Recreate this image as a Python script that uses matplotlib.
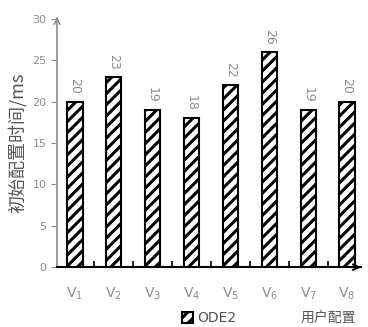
import matplotlib.pyplot as plt
import numpy as np

plt.rcParams['font.family'] = ['DejaVu Sans', 'Noto Sans CJK SC']

categories = ['$\\mathregular{V_1}$', '$\\mathregular{V_2}$', '$\\mathregular{V_3}$', '$\\mathregular{V_4}$',
              '$\\mathregular{V_5}$', '$\\mathregular{V_6}$', '$\\mathregular{V_7}$', '$\\mathregular{V_8}$']
ode2 = [20, 23, 19, 18, 22, 26, 19, 20]
yticks = [0, 5, 10, 15, 20, 25, 30]

gray = '#8c8c8c'
plt.rcParams['hatch.linewidth'] = 2.2

fig = plt.figure(figsize=(3.68, 3.27), dpi=100)
ax = fig.add_axes([0.155, 0.183, 0.825, 0.759])

x = np.arange(len(ode2))
bars = ax.bar(x, ode2, width=0.39, color='white', edgecolor='black', hatch='///',
              linewidth=1.5, label='ODE2', zorder=3)
for xi, v in zip(x, ode2):
    ax.text(xi, v + 0.9, str(v), rotation=-90, ha='center', va='bottom',
            color=gray, fontsize=9)

ax.set_xlim(-0.46, 7.35)
ax.set_ylim(0, 30)
ax.set_yticks(yticks)
ax.set_xticks(x)
ax.set_xticklabels(categories, color=gray, fontsize=10)
ax.set_xticks(x[:-1] + 0.5, minor=True)
ax.tick_params(axis='x', which='major', length=0, pad=13)
ax.tick_params(axis='x', which='minor', direction='in', length=4, width=1.2, color='black')
ax.tick_params(axis='y', direction='out', length=4, color=gray, labelcolor=gray, labelsize=8)

for s in ['top', 'right']:
    ax.spines[s].set_visible(False)
ax.spines['left'].set_color(gray)
ax.spines['left'].set_linewidth(1.2)
ax.spines['bottom'].set_color('black')
ax.spines['bottom'].set_linewidth(1.5)

# arrows on axes
ax.annotate('', xy=(0, 1.02), xytext=(0, 0.99), xycoords='axes fraction',
            arrowprops=dict(arrowstyle='->', color=gray, lw=1.2))
ax.annotate('', xy=(1.01, 0), xytext=(0.98, 0), xycoords='axes fraction',
            arrowprops=dict(arrowstyle='->', color='black', lw=1.5))

ax.set_ylabel('初始配置时间/ms', family=['Noto Sans CJK SC', 'DejaVu Sans'],
              fontsize=13, color='#555555', labelpad=4)
ax.text(0.985, -0.205, '用户配置', transform=ax.transAxes, ha='right', va='center',
        family=['Noto Sans CJK SC', 'DejaVu Sans'], fontsize=10, color='#555555')

leg = ax.legend(loc='center', bbox_to_anchor=(0.50, -0.205), frameon=False,
                fontsize=10, handlelength=0.8, handleheight=0.8, handletextpad=0.3,
                labelcolor='#555555')

fig.savefig('out.png', dpi=100)
